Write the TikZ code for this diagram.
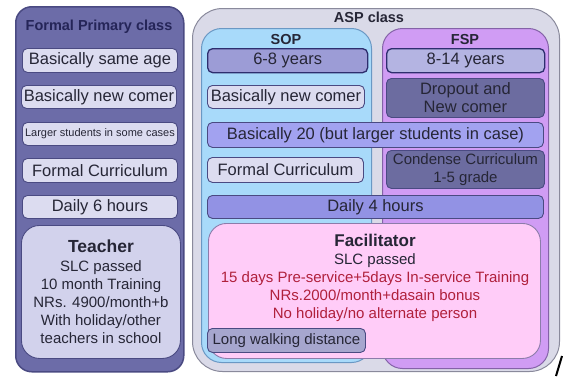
\documentclass[tikz,border=0pt]{standalone}
\usepackage{fontspec}
\setmainfont{Liberation Sans}

\definecolor{leftbg}{HTML}{6C6CA8}
\definecolor{leftrim}{HTML}{4A4A82}
\definecolor{paleb}{HTML}{DCDCF0}
\definecolor{teachbg}{HTML}{D2D2EC}
\definecolor{aspbg}{HTML}{DADAE8}
\definecolor{aspline}{HTML}{8A8A9C}
\definecolor{sopbg}{HTML}{A8DAFA}
\definecolor{sopline}{HTML}{6A98C4}
\definecolor{fspbg}{HTML}{D09CF4}
\definecolor{fspline}{HTML}{8462A8}
\definecolor{agebg}{HTML}{9C9CD6}
\definecolor{agebg2}{HTML}{B4B4E2}
\definecolor{navy}{HTML}{2E2E6E}
\definecolor{slate}{HTML}{6C6CA0}
\definecolor{peri}{HTML}{A2A2F0}
\definecolor{peri2}{HTML}{9292E4}
\definecolor{pinkbg}{HTML}{FFCCF8}
\definecolor{pinkline}{HTML}{8C7CAA}
\definecolor{walkbg}{HTML}{A6A6CE}
\definecolor{ink}{HTML}{262636}
\definecolor{redtext}{HTML}{B0203C}

\begin{document}
\begin{tikzpicture}[
        x=1pt, y=-1pt, % one unit = one pixel, y downwards
        panel/.style={draw, anchor=north west, inner sep=0pt, line width=1pt},
        cell/.style={draw=leftrim, rounded corners=5pt, anchor=north west, inner sep=0pt,
                align=center, text=ink, line width=0.9pt, font=\fontsize{16.5}{17}\selectfont},
        title/.style={font=\bfseries\fontsize{14.5}{15}\selectfont, text=ink},
        body/.style={align=center, text=ink, font=\fontsize{15}{18}\selectfont},
    ]
    \useasboundingbox (0,0) rectangle (565,376);

    % Formal primary class
    \node[panel, draw=leftrim, fill=leftbg, rounded corners=16pt, line width=1.5pt,
        minimum width=168, minimum height=365] (formal) at (15,6) {};
    \node[title, text=navy!80!black] (formaltitle) at (99,27) {Formal Primary class};
    \node[cell, fill=paleb, minimum width=155, minimum height=24] (fpage) at (22,48) {Basically same age};
    \node[cell, fill=paleb, minimum width=155, minimum height=23] (fpnew) at (21,85) {Basically new comer};
    \node[cell, fill=paleb, minimum width=155, minimum height=23, font=\fontsize{11}{12}\selectfont]
        (fplarge) at (22,122) {Larger students in some cases};
    \node[cell, fill=paleb, minimum width=155, minimum height=24] (fpcurr) at (22,158) {Formal Curriculum};
    \node[cell, fill=paleb, minimum width=155, minimum height=23] (fpdaily) at (22,195) {Daily 6 hours};
    \node[cell, fill=teachbg, rounded corners=18pt, minimum width=159, minimum height=133] (teacher) at (21,225) {};
    \node[body] (teachertext) at (teacher.center) {{\bfseries\fontsize{17.5}{18}\selectfont Teacher}\\[1pt]
        SLC passed\\10 month Training\\NRs. 4900/month+b\\With holiday/other\\teachers in school};

    % ASP class
    \node[panel, draw=aspline, fill=aspbg, rounded corners=30pt,
        minimum width=367, minimum height=363] (asp) at (192,8) {};
    \node[title] (asptitle) at (369,17) {ASP class};
    \node[panel, draw=sopline, fill=sopbg, rounded corners=20pt,
        minimum width=170, minimum height=334] (sop) at (201,28) {};
    \node[panel, draw=fspline, fill=fspbg, rounded corners=20pt,
        minimum width=166, minimum height=340] (fsp) at (382,28) {};
    \node[title] (soptitle) at (286,40) {SOP};
    \node[title] (fsptitle) at (465,40) {FSP};

    \node[cell, draw=navy, fill=agebg, line width=1.3pt, minimum width=160, minimum height=24] (sopage) at (207,48) {6-8 years};
    \node[cell, draw=navy, fill=agebg2, line width=1.3pt, minimum width=158, minimum height=24] (fspage) at (386,48) {8-14 years};
    \node[cell, fill=paleb, minimum width=157, minimum height=23] (sopnew) at (207,85) {Basically new comer};
    \node[cell, fill=slate, minimum width=158, minimum height=39, font=\fontsize{16.5}{18}\selectfont]
        (fspnew) at (386,78) {Dropout and\\New comer};
    \node[cell, fill=peri, minimum width=336, minimum height=25] (size) at (207,122) {Basically 20 (but larger students in case)};
    \node[cell, fill=paleb, minimum width=156, minimum height=25] (sopcurr) at (207,157) {Formal Curriculum};
    \node[cell, fill=slate, minimum width=158, minimum height=38, font=\fontsize{15}{18}\selectfont]
        (fspcurr) at (386,150) {Condense Curriculum\\1-5 grade};
    \node[cell, fill=peri2, minimum width=336, minimum height=23] (daily) at (207,195) {Daily 4 hours};

    \node[cell, draw=pinkline, fill=pinkbg, rounded corners=18pt, minimum width=332, minimum height=135] (facil) at (208,223) {};
    \node[body, text=redtext] (faciltext) at (375,278) {{\bfseries\fontsize{17}{18}\selectfont\color{ink}Facilitator}\\
        {\color{ink}SLC passed}\\15 days Pre-service+5days In-service Training\\
        NRs.2000/month+dasain bonus\\No holiday/no alternate person};
    \node[cell, fill=walkbg, minimum width=158, minimum height=24, font=\fontsize{15}{16}\selectfont]
        (walk) at (207,328) {Long walking distance};

    \draw[line width=2pt] (556,376) -- (562,356);
\end{tikzpicture}
\end{document}
